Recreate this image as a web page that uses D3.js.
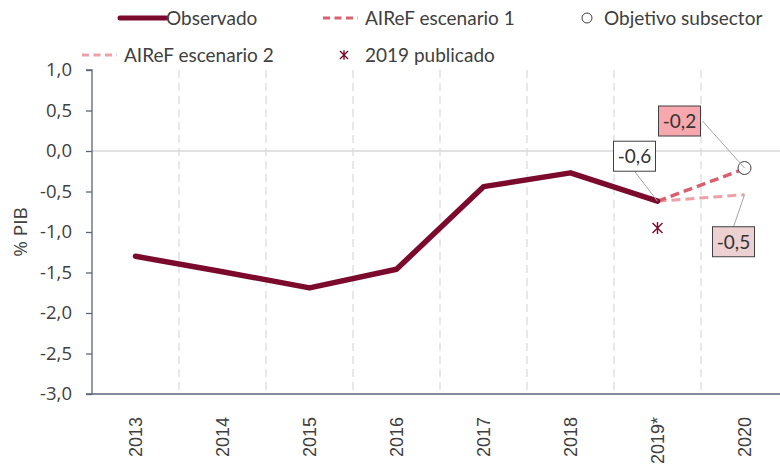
<!DOCTYPE html>
<html>
<head>
<meta charset="utf-8">
<script src="https://cdn.jsdelivr.net/npm/d3@7"></script>
<style>
  body { margin: 0; background: #fff; }
  svg { display: block; font-family: "Lato", "Open Sans", sans-serif; }
</style>
</head>
<body>
<div id="chart"></div>
<script>
const years = ["2013", "2014", "2015", "2016", "2017", "2018", "2019*", "2020"];
const observado = [-1.3, -1.49, -1.69, -1.46, -0.44, -0.27, -0.62, null];
const escenario1 = [null, null, null, null, null, null, -0.62, -0.22];
const escenario2 = [null, null, null, null, null, null, -0.62, -0.54];
const objetivo = [null, null, null, null, null, null, null, -0.21];
const publicado2019 = [null, null, null, null, null, null, -0.95, null];
const yTicks = [1, 0.5, 0, -0.5, -1, -1.5, -2, -2.5, -3];
const labels = [
  { year: "2019*", value: -0.62, text: "-0,6", dx: -23, dy: -45, fill: "#fff" },
  { year: "2020", value: -0.21, text: "-0,2", dx: -65, dy: -47, fill: "#f7a8ae" },
  { year: "2020", value: -0.54, text: "-0,5", dx: -11, dy: 47, fill: "#ecd0d2" }
];

const width = 780, height = 464;
const margin = { top: 70, right: -8, bottom: 70, left: 92 };

const svg = d3.select("#chart").append("svg")
  .attr("width", width).attr("height", height);

const x = d3.scaleBand().domain(years)
  .range([margin.left, width - margin.right]);
const y = d3.scaleLinear().domain([-3, 1])
  .range([height - margin.bottom, margin.top]);
const cx = d => x(d) + x.bandwidth() / 2;

// vertical dashed grid
svg.append("g").selectAll("line")
  .data(years.slice(1))
  .join("line")
  .attr("x1", d => x(d)).attr("x2", d => x(d))
  .attr("y1", margin.top).attr("y2", y(-3))
  .attr("stroke", "#d9d9d9").attr("stroke-width", 1.2)
  .attr("stroke-dasharray", "8,5");

// zero line
svg.append("line")
  .attr("x1", margin.left).attr("x2", width)
  .attr("y1", y(0)).attr("y2", y(0))
  .attr("stroke", "#d9d9d9").attr("stroke-width", 1.5);

// y axis
const yAxis = svg.append("g")
  .attr("transform", `translate(${margin.left},0)`)
  .call(d3.axisLeft(y).tickValues(yTicks).tickSize(6).tickPadding(14)
    .tickFormat(d => d3.format(".1f")(d).replace(".", ",").replace("−", "-")));
yAxis.selectAll("line, path").attr("stroke", "#5b6578").attr("stroke-width", 1.3);
yAxis.select(".domain").attr("d", `M-6,${y(1)}H0V${y(-3)}H-6`);
yAxis.selectAll("text").attr("fill", "#404040")
  .style("font-family", "'Open Sans', sans-serif").style("font-size", "18.5px");

// x axis
const xAxis = svg.append("g")
  .attr("transform", `translate(0,${y(-3)})`)
  .call(d3.axisBottom(x).tickSize(0));
xAxis.select(".domain").attr("d", `M${margin.left},0H${width}`)
  .attr("stroke", "#5b6578").attr("stroke-width", 1.3);
xAxis.selectAll("text")
  .attr("transform", "rotate(-90)")
  .attr("text-anchor", "end")
  .attr("x", -23).attr("y", 0).attr("dy", "0.35em")
  .attr("fill", "#404040")
  .style("font-size", "18px");

// y label
svg.append("text")
  .attr("transform", `translate(27,${(y(1) + y(-3)) / 2}) rotate(-90)`)
  .attr("text-anchor", "middle")
  .attr("fill", "#404040")
  .style("font-family", "'Open Sans', sans-serif").style("font-size", "19px")
  .text("% PIB");

const line = d3.line()
  .defined(d => d.v !== null)
  .x(d => cx(d.year)).y(d => y(d.v));
const pts = arr => years.map((yr, i) => ({ year: yr, v: arr[i] }));

svg.append("path").datum(pts(escenario2))
  .attr("fill", "none").attr("stroke", "#eca1a9").attr("stroke-width", 3)
  .attr("stroke-dasharray", "9,5").attr("d", line);
svg.append("path").datum(pts(escenario1))
  .attr("fill", "none").attr("stroke", "#d9616f").attr("stroke-width", 3.5)
  .attr("stroke-dasharray", "9,5").attr("d", line);
svg.append("path").datum(pts(observado))
  .attr("fill", "none").attr("stroke", "#7b0a2d").attr("stroke-width", 5.5)
  .attr("stroke-linecap", "round").attr("stroke-linejoin", "round").attr("d", line);

// objetivo circle
svg.append("g").selectAll("circle")
  .data(pts(objetivo).filter(d => d.v !== null))
  .join("circle")
  .attr("cx", d => cx(d.year)).attr("cy", d => y(d.v)).attr("r", 6.5)
  .attr("fill", "#fff").attr("stroke", "#404040").attr("stroke-width", 1);

// asterisk marker
const star = (g, px, py, s, color) => {
  const p = `M${px - s},${py - s}L${px + s},${py + s}M${px - s},${py + s}L${px + s},${py - s}M${px},${py - s * 1.2}V${py + s * 1.2}`;
  g.append("path").attr("d", p).attr("stroke", color).attr("stroke-width", 1.4).attr("fill", "none");
};
pts(publicado2019).filter(d => d.v !== null)
  .forEach(d => star(svg, cx(d.year), y(d.v), 5, "#7b0a2d"));

// data labels with leader lines
labels.forEach(l => {
  const px = cx(l.year), py = y(l.value);
  const bx = px + l.dx, by = py + l.dy;
  const w = 42, h = 30;
  svg.append("line")
    .attr("x1", l.dy < 0 && l.dx < -30 ? bx + w / 2 + 2 : bx)
    .attr("y1", l.dy < 0 && l.dx < -30 ? by : (l.dy < 0 ? by + h / 2 : by - h / 2))
    .attr("x2", px).attr("y2", py)
    .attr("stroke", "#a6a6a6").attr("stroke-width", 1);
  svg.append("rect")
    .attr("x", bx - w / 2).attr("y", by - h / 2)
    .attr("width", w).attr("height", h)
    .attr("fill", l.fill).attr("stroke", "#404040").attr("stroke-width", 1);
  svg.append("text")
    .attr("x", bx).attr("y", by).attr("dy", "0.36em")
    .attr("text-anchor", "middle").attr("fill", "#333")
    .style("font-size", "19px")
    .text(l.text);
});

// legend
const legend = svg.append("g").style("font-size", "19px").attr("fill", "#404040");
const items = [
  { name: "Observado", type: "line", color: "#7b0a2d", x: 120, y: 18, w: 46, sw: 5, gap: 0 },
  { name: "AIReF escenario 1", type: "dash", color: "#d9616f", x: 323, y: 18, w: 35, sw: 3, gap: 7 },
  { name: "Objetivo subsector", type: "circle", color: "#404040", x: 587, y: 18, gap: 17 },
  { name: "AIReF escenario 2", type: "dash", color: "#eca1a9", x: 82, y: 55, w: 35, sw: 3, gap: 7 },
  { name: "2019 publicado", type: "star", color: "#7b0a2d", x: 344, y: 55, gap: 21 }
];
items.forEach(it => {
  let tx;
  if (it.type === "line" || it.type === "dash") {
    legend.append("line")
      .attr("x1", it.x).attr("x2", it.x + it.w).attr("y1", it.y).attr("y2", it.y)
      .attr("stroke", it.color).attr("stroke-width", it.sw)
      .attr("stroke-linecap", it.type === "line" ? "round" : "butt")
      .attr("stroke-dasharray", it.type === "dash" ? "7,4.5" : null);
    tx = it.x + it.w + it.gap;
  } else if (it.type === "circle") {
    legend.append("circle").attr("cx", it.x).attr("cy", it.y).attr("r", 5)
      .attr("fill", "#fff").attr("stroke", it.color);
    tx = it.x + it.gap;
  } else {
    star(legend, it.x, it.y, 4, it.color);
    tx = it.x + it.gap;
  }
  legend.append("text").attr("x", tx).attr("y", it.y).attr("dy", "0.35em").text(it.name);
});
</script>
</body>
</html>
